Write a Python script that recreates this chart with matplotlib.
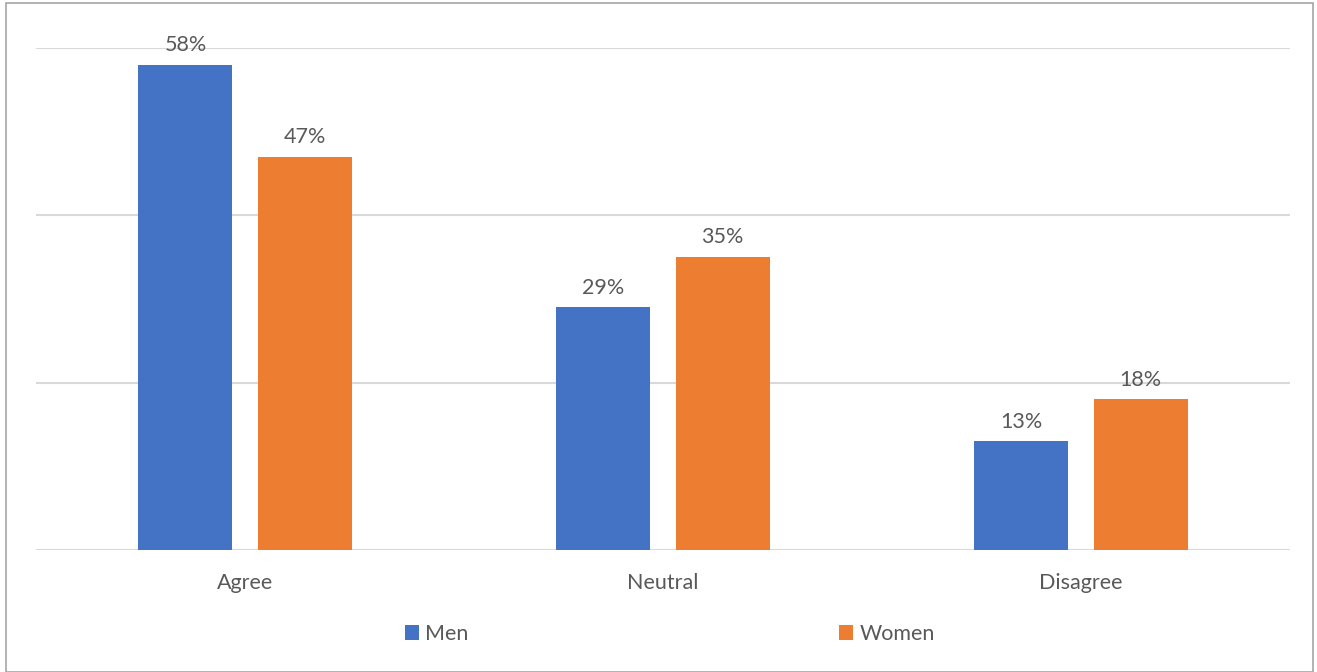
import matplotlib.pyplot as plt
import matplotlib.patches as patches
import numpy as np

# data
categories = ["Agree", "Neutral", "Disagree"]
men = [58, 29, 13]
women = [47, 35, 18]
series_names = ["Men", "Women"]
colors = ["#4472C4", "#ED7D31"]

plt.rcParams['font.family'] = ['Lato', 'DejaVu Sans']
text_color = "#595959"
fsize = 15.5

fig = plt.figure(figsize=(13.17, 6.72), dpi=100)
ax = fig.add_axes([36 / 1317, 1 - 550 / 672, 1254 / 1317, 502 / 672])

x = np.arange(len(categories))
width = 0.225
offset = 0.1425

bars_men = ax.bar(x - offset, men, width, color=colors[0], label=series_names[0], zorder=3)
bars_women = ax.bar(x + offset, women, width, color=colors[1], label=series_names[1], zorder=3)

for bars, vals in [(bars_men, men), (bars_women, women)]:
    for b, v in zip(bars, vals):
        ax.annotate(f"{v}%", (b.get_x() + b.get_width() / 2, v),
                    xytext=(0, 7), textcoords="offset points",
                    ha="center", va="bottom", fontsize=fsize, color=text_color)

ax.set_xlim(-0.5, 2.5)
ax.set_ylim(0, 60)
ax.set_yticks([0, 20, 40, 60])
ax.yaxis.grid(True, color="#d9d9d9", linewidth=1.5, zorder=0)
ax.tick_params(axis="y", left=False, labelleft=False)
ax.tick_params(axis="x", bottom=False, labelsize=fsize, labelcolor=text_color, pad=13)
ax.set_xticks(x)
ax.set_xticklabels(categories)
for s in ax.spines.values():
    s.set_visible(False)

fig.legend(handles=[bars_men, bars_women], labels=series_names,
           loc="center", bbox_to_anchor=(670 / 1317, 1 - 634 / 672),
           ncol=2, frameon=False, fontsize=fsize, labelcolor=text_color,
           handlelength=0.65, handleheight=0.65, handletextpad=0.3,
           columnspacing=17.2)

# outer border
fig.patches.append(patches.Rectangle((6 / 1317, 0), 1307 / 1317, 1 - 3 / 672,
                                     transform=fig.transFigure, fill=False,
                                     edgecolor="#a6a6a6", linewidth=1.2))

fig.savefig("out.png", dpi=100)
